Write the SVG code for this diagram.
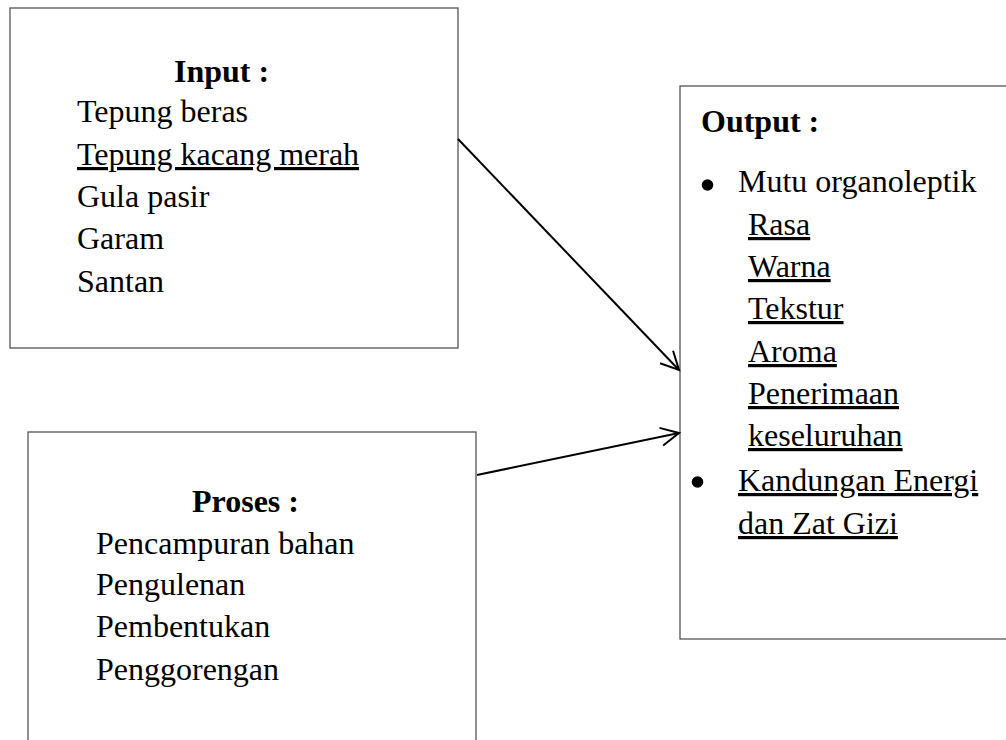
<svg xmlns="http://www.w3.org/2000/svg" width="1006" height="740" viewBox="0 0 1006 740">
<style>
.box{fill:#fff;stroke:#555;stroke-width:1.3}
.t{font-family:"Liberation Serif","Times New Roman",serif;font-size:32px;fill:#000}
.b{font-weight:bold}
.u{text-decoration:underline}
.conn{stroke:#000;stroke-width:2;fill:none}
.dot{fill:#000}
</style>
<defs>
<marker id="arr" markerUnits="userSpaceOnUse" markerWidth="24" markerHeight="24" viewBox="-20 -12 24 24" refX="0" refY="0" orient="auto">
<path d="M-18,-9 L0,0 L-18,9" fill="none" stroke="#000" stroke-width="2"/>
</marker>
</defs>
<rect width="1006" height="740" fill="#fff"/>
<g id="input">
<rect class="box" x="10" y="8" width="448" height="340"/>
<text class="t b" x="174" y="82">Input :</text>
<text class="t" x="77" y="122">Tepung beras</text>
<text class="t u" x="77" y="165">Tepung kacang merah</text>
<text class="t" x="77" y="207">Gula pasir</text>
<text class="t" x="77" y="249">Garam</text>
<text class="t" x="77" y="292">Santan</text>
</g>
<g id="proses">
<rect class="box" x="28" y="432" width="448" height="320"/>
<text class="t b" x="192" y="512">Proses :</text>
<text class="t" x="96" y="554">Pencampuran bahan</text>
<text class="t" x="96" y="595">Pengulenan</text>
<text class="t" x="96" y="637">Pembentukan</text>
<text class="t" x="96" y="680">Penggorengan</text>
</g>
<g id="output">
<rect class="box" x="680" y="86" width="340" height="553"/>
<text class="t b" x="701" y="132">Output :</text>
<circle class="dot" cx="707.5" cy="185" r="5.8"/>
<text class="t" x="738" y="192">Mutu organoleptik</text>
<text class="t u" x="748" y="235">Rasa</text>
<text class="t u" x="748" y="277">Warna</text>
<text class="t u" x="748" y="319">Tekstur</text>
<text class="t u" x="748" y="362">Aroma</text>
<text class="t u" x="748" y="404">Penerimaan</text>
<text class="t u" x="748" y="446">keseluruhan</text>
<circle class="dot" cx="697.5" cy="482" r="5.8"/>
<text class="t u" x="738" y="491">Kandungan Energi</text>
<text class="t u" x="738" y="534">dan Zat Gizi</text>
</g>
<g id="connectors">
<line class="conn" x1="458" y1="139" x2="679" y2="370" marker-end="url(#arr)"/>
<line class="conn" x1="477" y1="475" x2="679" y2="433" marker-end="url(#arr)"/>
</g>
</svg>
